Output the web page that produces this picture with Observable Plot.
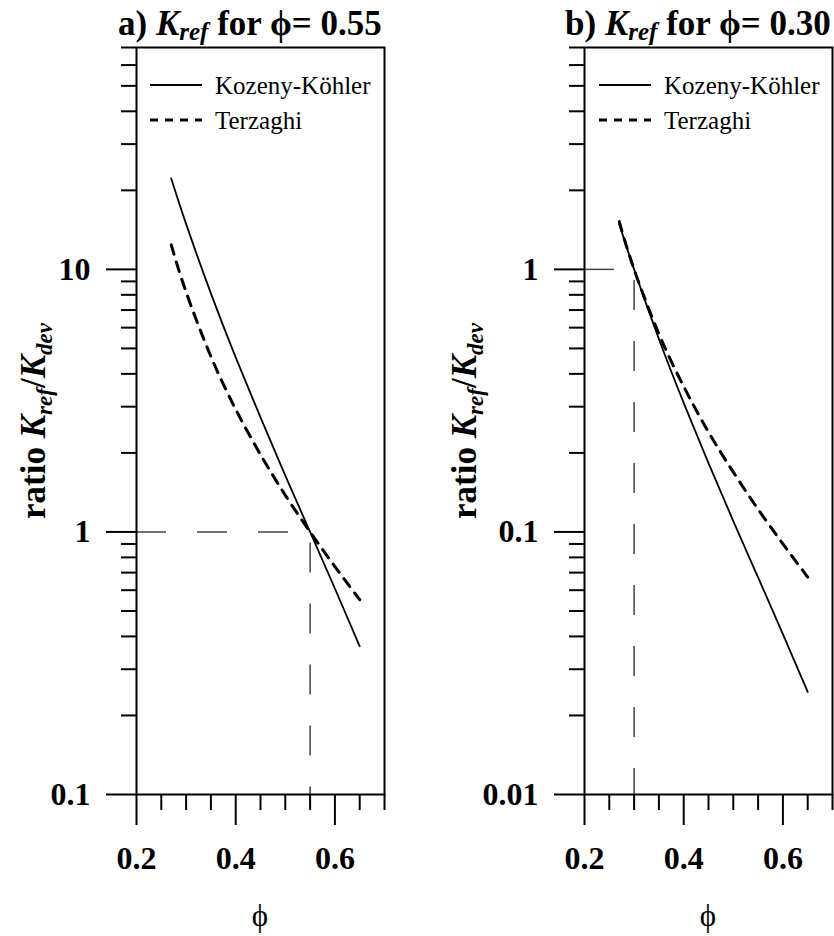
<!DOCTYPE html>
<html><head><meta charset="utf-8">
<script src="https://cdn.jsdelivr.net/npm/d3@7"></script>
<script src="https://cdn.jsdelivr.net/npm/@observablehq/plot@0.6"></script>
<style>
body{margin:0;background:#fff;}
#wrap{position:relative;width:834px;height:936px;overflow:hidden;background:#fff;}
#wrap .panel{position:absolute;top:0;}
#overlay{position:absolute;left:0;top:0;pointer-events:none;}
</style></head><body><div id="wrap"></div>
<script>
// porosity values (x)
const phi = [0.27, 0.30, 0.35, 0.40, 0.45, 0.50, 0.55, 0.60, 0.65];
// panel a) reference porosity 0.55
const kozenyA   = [22.2, 14.9, 8.10, 4.62, 2.73, 1.64, 1.00, 0.609, 0.367];
const terzaghiA = [12.4, 8.20, 4.66, 2.93, 1.97, 1.38, 1.00, 0.738, 0.552];
// panel b) reference porosity 0.30
const kozenyB   = [1.49, 1.00, 0.543, 0.310, 0.183, 0.110, 0.0671, 0.0408, 0.0246];
const terzaghiB = [1.52, 1.00, 0.568, 0.358, 0.240, 0.169, 0.122, 0.0901, 0.0673];
const refPhiA = 0.55, refPhiB = 0.30;
const xDomain = [0.2, 0.7];
const xMajor = [0.2, 0.4, 0.6];
const xMinor = [0.25, 0.3, 0.35, 0.45, 0.5, 0.55, 0.65, 0.7];
const yDomainA = [0.1, 70];
const yMajorA = [0.1, 1, 10];
const yMinorA = [0.2,0.3,0.4,0.5,0.6,0.7,0.8,0.9,2,3,4,5,6,7,8,9,20,30,40,50,60,70];
const yDomainB = [0.01, 7];
const yMajorB = [0.01, 0.1, 1];
const yMinorB = [0.02,0.03,0.04,0.05,0.06,0.07,0.08,0.09,0.2,0.3,0.4,0.5,0.6,0.7,0.8,0.9,2,3,4,5,6,7];
const seriesNames = ["Kozeny-Köhler", "Terzaghi"];
const titles = [{letter:"a)", value:"0.55"}, {letter:"b)", value:"0.30"}];

const FONT = "'Liberation Serif','Times New Roman',Times,serif";

function panel(k, t, yDomain, yMajor, yMinor, ref, marginLeft, marginRight) {
  const rows = phi.map((p, i) => ({phi: p, k: k[i], t: t[i]}));
  return Plot.plot({
    width: 417, height: 936,
    marginTop: 47, marginBottom: 142, marginLeft, marginRight,
    style: {fontFamily: FONT, fontSize: "32px", fontWeight: "bold", color: "#000", background: "transparent", overflow: "visible"},
    x: {domain: xDomain},
    y: {type: "log", domain: yDomain},
    marks: [
      Plot.ruleY([1], {x1: xDomain[0], x2: ref, stroke: "#444", strokeWidth: 1.5, strokeDasharray: "30,31"}),
      Plot.ruleX([ref], {y1: 1, y2: yDomain[0], stroke: "#444", strokeWidth: 1.5, strokeDasharray: "30,31", strokeDashoffset: 50}),
      Plot.line(rows, {x: "phi", y: "k", stroke: "#000", strokeWidth: 1.8, curve: "natural"}),
      Plot.line(rows, {x: "phi", y: "t", stroke: "#000", strokeWidth: 3, strokeDasharray: "10,8", curve: "natural"}),
      Plot.axisY(yMajor, {tickSize: 30, tickPadding: 16, tickFormat: d => String(d), label: null, strokeWidth: 2}),
      Plot.axisY(yMinor, {tickSize: 15, fill: "none", label: null, strokeWidth: 2}),
      Plot.axisX(xMajor, {tickSize: 31, tickPadding: 21, tickFormat: d => d.toFixed(1), label: null, strokeWidth: 2}),
      Plot.axisX(xMinor, {tickSize: 16, fill: "none", label: null, strokeWidth: 2}),
      Plot.frame({stroke: "#000", strokeWidth: 2})
    ]
  });
}

const wrap = document.getElementById("wrap");
const pa = panel(kozenyA, terzaghiA, yDomainA, yMajorA, yMinorA, refPhiA, 136, 33);
pa.classList.add("panel"); pa.style.left = "0px";
const pb = panel(kozenyB, terzaghiB, yDomainB, yMajorB, yMinorB, refPhiB, 167, 2);
pb.classList.add("panel"); pb.style.left = "417px";
wrap.appendChild(pa); wrap.appendChild(pb);

// overlay with titles, axis titles and legends
const svg = d3.select(wrap).append("svg").attr("id", "overlay")
  .attr("width", 834).attr("height", 936)
  .style("font-family", FONT);

const panelsGeo = [
  {titleX: 118, yLabX: 45, frameL: 136, frameR: 384, legX: 150},
  {titleX: 565, yLabX: 476, frameL: 584, frameR: 832, legX: 599}
];

panelsGeo.forEach((g, i) => {
  // title
  const tt = svg.append("text").attr("x", g.titleX).attr("y", 35)
    .attr("font-size", 35).attr("font-weight", "bold").attr("fill", "#000");
  tt.append("tspan").text(titles[i].letter + " ");
  tt.append("tspan").attr("font-style", "italic").text("K");
  tt.append("tspan").attr("font-style", "italic").attr("font-size", 25).attr("dy", 5).text("ref");
  tt.append("tspan").attr("dy", -5).text(" for ϕ= " + titles[i].value);

  // y label
  const yl = svg.append("text")
    .attr("transform", `translate(${g.yLabX},421) rotate(-90)`)
    .attr("text-anchor", "middle").attr("font-size", 35).attr("font-weight", "bold").attr("fill", "#000");
  yl.append("tspan").text("ratio ");
  yl.append("tspan").attr("font-style", "italic").text("K");
  yl.append("tspan").attr("font-style", "italic").attr("font-size", 23).attr("dy", 7).text("ref");
  yl.append("tspan").attr("dy", -7).text("/");
  yl.append("tspan").attr("font-style", "italic").text("K");
  yl.append("tspan").attr("font-style", "italic").attr("font-size", 23).attr("dy", 7).text("dev");

  // x label
  svg.append("text").attr("x", (g.frameL + g.frameR) / 2).attr("y", 926)
    .attr("text-anchor", "middle").attr("font-size", 31).attr("fill", "#000").text("ϕ");

  // legend
  const rowsY = [85, 120];
  const styles = [{w: 1.8, dash: null}, {w: 3, dash: "8,7"}];
  seriesNames.forEach((name, j) => {
    const ln = svg.append("line").attr("x1", g.legX).attr("x2", g.legX + 52)
      .attr("y1", rowsY[j]).attr("y2", rowsY[j])
      .attr("stroke", "#000").attr("stroke-width", styles[j].w);
    if (styles[j].dash) ln.attr("stroke-dasharray", styles[j].dash);
    svg.append("text").attr("x", g.legX + 65).attr("y", rowsY[j] + 9)
      .attr("font-size", 25).attr("fill", "#000").text(name);
  });
});
</script>
</body></html>
